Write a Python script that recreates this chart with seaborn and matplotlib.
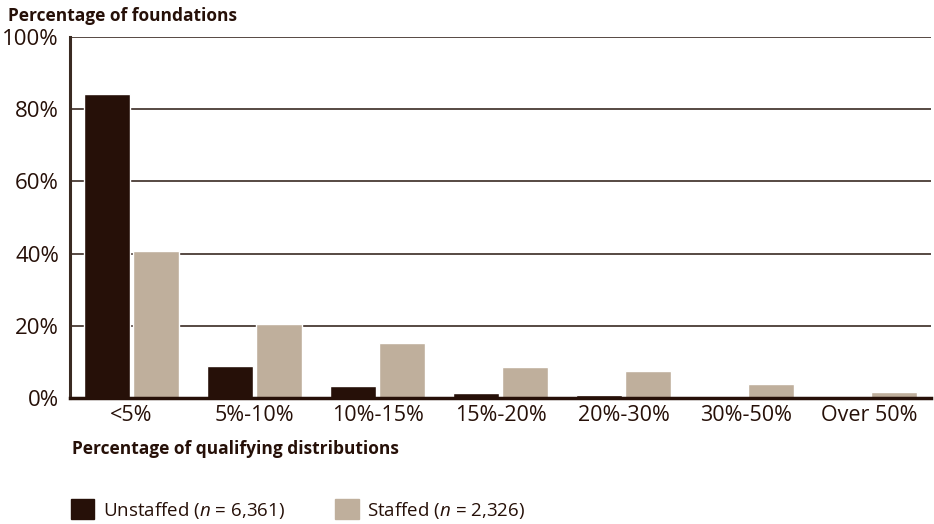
import pandas as pd
import matplotlib.pyplot as plt
import seaborn as sns

categories = ["<5%", "5%-10%", "10%-15%", "15%-20%", "20%-30%", "30%-50%", "Over 50%"]
unstaffed = [84.2, 8.9, 3.3, 1.4, 0.8, 0.0, 0.0]
staffed = [40.7, 20.5, 15.2, 8.6, 7.5, 3.9, 1.7]
series = ["Unstaffed", "Staffed"]
legend_labels = [r"Unstaffed ($\it{n}$ = 6,361)", r"Staffed ($\it{n}$ = 2,326)"]
y_ticks = [0, 20, 40, 60, 80, 100]

dark = "#261008"
tan = "#bfaf9c"
line_col = "#3a2a22"

df = pd.DataFrame({
    "category": categories * 2,
    "value": unstaffed + staffed,
    "group": [series[0]] * len(categories) + [series[1]] * len(categories),
})

sns.set_style("white")
plt.rcParams["font.family"] = ["Open Sans", "DejaVu Sans"]
plt.rcParams["mathtext.fontset"] = "custom"
plt.rcParams["mathtext.it"] = "Open Sans:italic"
plt.rcParams["mathtext.rm"] = "Open Sans"

fig = plt.figure(figsize=(9.34, 5.24), dpi=100)
ax = fig.add_axes([70 / 934, 126 / 524, 861 / 934, 361 / 524])

sns.barplot(data=df, x="category", y="value", hue="group",
            palette=[dark, tan], width=0.8, gap=0.08,
            saturation=1, legend=False, ax=ax)

ax.set_ylim(0, 100)
ax.set_xlim(-0.5, len(categories) - 0.5)
ax.set_yticks(y_ticks)
ax.set_yticklabels([f"{v}%" for v in y_ticks], fontsize=16, color=dark)
ax.tick_params(axis="x", length=0, labelsize=15.5, colors=dark, pad=5)
ax.tick_params(axis="y", length=7, width=1.2, color=line_col, pad=1)
for v in y_ticks[1:]:
    ax.axhline(v, color=line_col, lw=1.2, zorder=0)

sns.despine(ax=ax, top=True, right=True)
ax.spines["left"].set_color(line_col)
ax.spines["left"].set_linewidth(2.2)
ax.spines["bottom"].set_color(dark)
ax.spines["bottom"].set_linewidth(2.5)

ax.set_xlabel("")
ax.set_ylabel("")
fig.text(8 / 934, 1 - 16 / 524, "Percentage of foundations", fontsize=12.5,
         fontweight="bold", color=dark, va="center", ha="left")
fig.text(72 / 934, 1 - 449 / 524, "Percentage of qualifying distributions",
         fontsize=12.5, fontweight="bold", color=dark, va="center", ha="left")

handles = [plt.Rectangle((0, 0), 1, 1, color=c) for c in [dark, tan]]
fig.legend(handles, legend_labels, loc="center left",
           bbox_to_anchor=(54 / 934, 1 - 510 / 524), ncol=2, frameon=False,
           fontsize=13.5, handlelength=1.25, handleheight=1.25,
           handletextpad=0.45, columnspacing=2.7, labelcolor=dark)

fig.savefig("out.png", dpi=100)
